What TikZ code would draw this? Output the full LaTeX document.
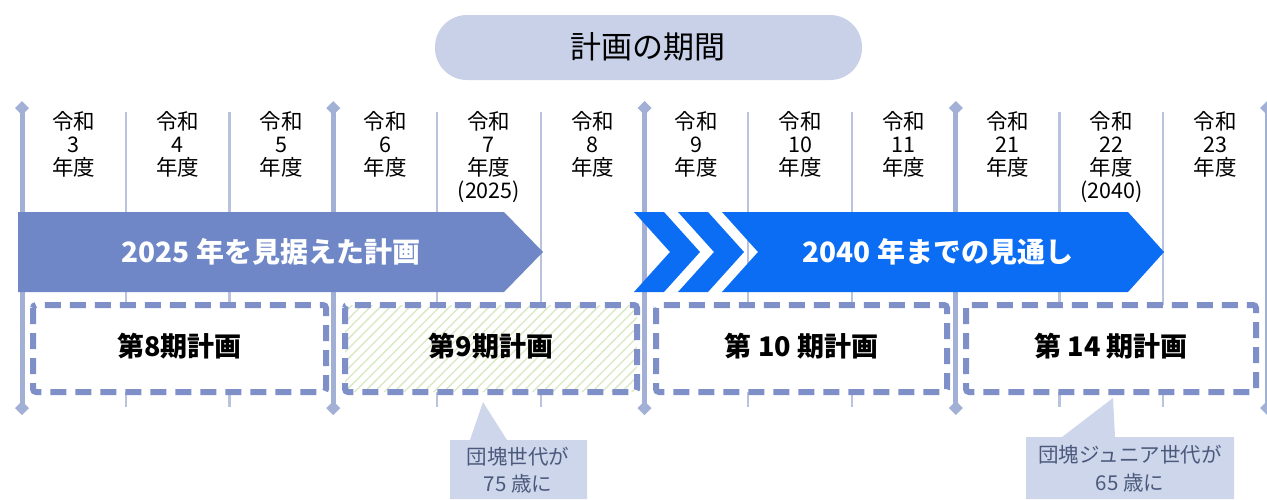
\documentclass[tikz,border=0pt]{standalone}
\usepackage{fontspec}
\setmainfont{Noto Sans CJK JP}
\usetikzlibrary{patterns.meta}
\definecolor{pill}{HTML}{C9D1E8}
\definecolor{thickln}{HTML}{A3B0D6}
\definecolor{thinln}{HTML}{BAC3DD}
\definecolor{arrowA}{HTML}{6F87C7}
\definecolor{arrowB}{HTML}{0B6DF3}
\definecolor{dashc}{HTML}{7F90C8}
\definecolor{callc}{HTML}{CED6EB}
\definecolor{calltext}{HTML}{4B5A7C}
\definecolor{hatchc}{HTML}{D8E8C2}
\tikzset{
  thickline/.style={draw=thickln, line width=5pt},
  thinline/.style={draw=thinln, line width=2.2pt},
  diam/.style={fill=thickln},
  hdr/.style={inner sep=0pt, anchor=base, font=\fontsize{21.5}{23}\selectfont},
  arrowlbl/.style={inner sep=0pt, text=white, font=\fontsize{28}{30}\selectfont\bfseries},
  planbox/.style={draw=dashc, line width=6pt, dash pattern=on 16pt off 9pt, rounded corners=3pt, fill=white},
  boxlbl/.style={inner sep=0pt, font=\fontsize{27}{29}\selectfont\bfseries},
  calltxt/.style={inner sep=0pt, anchor=base, text=calltext, font=\fontsize{20.5}{22}\selectfont},
}
\begin{document}
\begin{tikzpicture}[x=1pt,y=-1pt]
\useasboundingbox (0,0) rectangle (1267,499);
% title pill
\fill[pill, rounded corners=32pt] (435,15) rectangle (862,80);
\node[inner sep=0pt, font=\fontsize{31}{33}\selectfont] (title) at (648,47) {計画の期間};
% thin lines
\foreach \k in {1,2,4,5,7,8,10,11}{
  \draw[thinline] ({22+103.75*\k},112) -- ({22+103.75*\k},407);
}
% thick lines with diamonds
\foreach \k in {0,3,6,9,12}{
  \pgfmathsetmacro{\xx}{22+103.75*\k}
  \draw[thickline] (\xx,108) -- (\xx,408);
  \fill[diam] (\xx,101) -- (\xx+7,108) -- (\xx,115) -- (\xx-7,108) -- cycle;
  \fill[diam] (\xx,401) -- (\xx+7,408) -- (\xx,415) -- (\xx-7,408) -- cycle;
}
% headers
\foreach \n [count=\i from 0] in {3,4,5,6,7,8,9,10,11,21,22,23}{
  \pgfmathsetmacro{\cx}{22+103.75*(\i+0.5)}
  \node[hdr] (ha\n) at (\cx,129) {令和};
  \node[hdr] (hb\n) at (\cx,152.5) {\n};
  \node[hdr] (hc\n) at (\cx,175.5) {年度};
}
\node[hdr] (hd7) at ({22+103.75*4.5},198.5) {(2025)};
\node[hdr] (hd22) at ({22+103.75*10.5},198.5) {(2040)};
% left arrow
\fill[arrowA] (18,212) -- (504,212) -- (543,252) -- (504,292) -- (18,292) -- cycle;
\node[arrowlbl] (lblA) at (271,252) {2025 年を見据えた計画};
% right chevrons and arrow
\foreach \a in {634,678}{
  \fill[arrowB] (\a,212) -- (\a+30,212) -- (\a+66,252) -- (\a+30,292) -- (\a,292) -- (\a+36,252) -- cycle;
}
\fill[arrowB] (722,212) -- (1128,212) -- (1164,252) -- (1128,292) -- (722,292) -- (758,252) -- cycle;
\node[arrowlbl] (lblB) at (938,252) {2040 年までの見通し};
% plan boxes
\draw[planbox] (33,305) rectangle (326,392);
\draw[planbox, preaction={fill=white}, fill=none, pattern={Lines[angle=45,distance=7pt,line width=1.3pt]}, pattern color=hatchc] (345,305) rectangle (637,392);
\draw[planbox] (656,305) rectangle (947,392);
\draw[planbox] (966,305) rectangle (1256,392);
\node[boxlbl] (p8) at (179.5,346) {第8期計画};
\node[boxlbl] (p9) at (491,346) {第9期計画};
\node[boxlbl] (p10) at (801.5,346) {第 10 期計画};
\node[boxlbl] (p14) at (1111,346) {第 14 期計画};
% callouts
\fill[callc] (450,440) -- (470,440) -- (483,402) -- (507,440) -- (587,440) -- (587,499) -- (450,499) -- cycle;
\node[calltxt] (c1a) at (518,464) {団塊世代が};
\node[calltxt] (c1b) at (518,491) {75 歳に};
\fill[callc] (1026,437) -- (1062,437) -- (1113,398) -- (1115,437) -- (1234,437) -- (1234,499) -- (1026,499) -- cycle;
\node[calltxt] (c2a) at (1130,462) {団塊ジュニア世代が};
\node[calltxt] (c2b) at (1130,490) {65 歳に};
\end{tikzpicture}
\end{document}
